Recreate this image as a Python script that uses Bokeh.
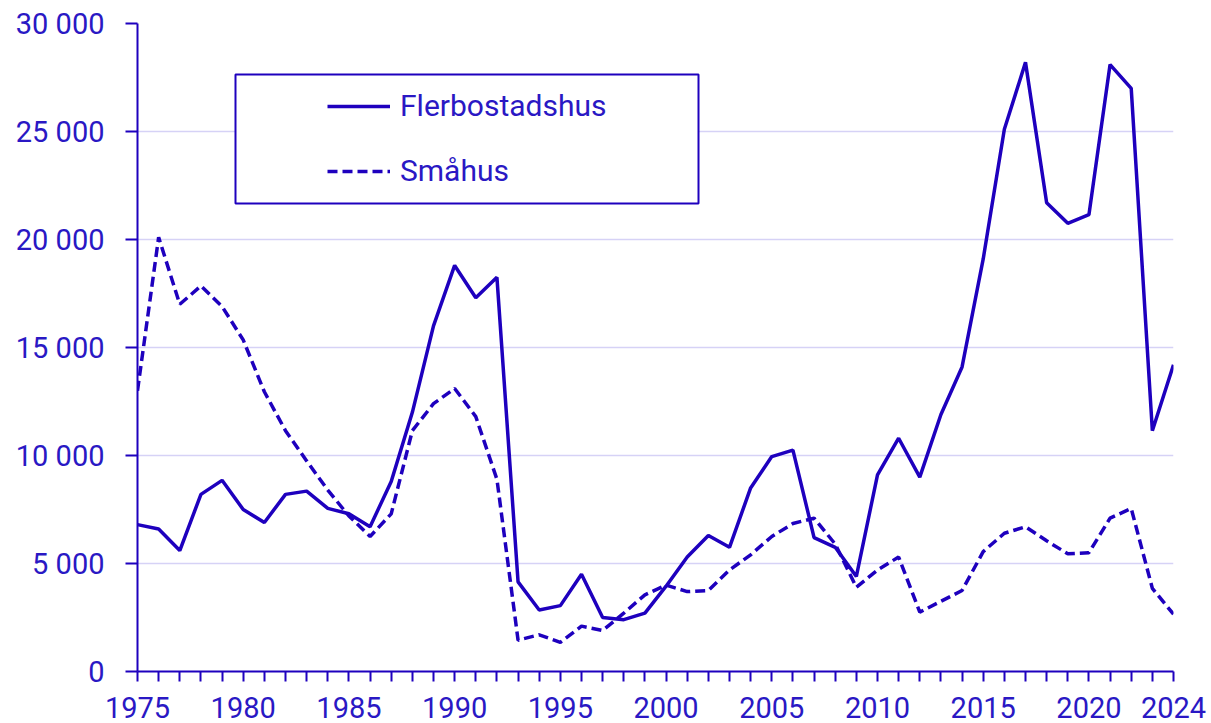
from bokeh.plotting import figure
from bokeh.models import (ColumnDataSource, FixedTicker, Legend, LegendItem,
                          BoxAnnotation, Range1d)
from bokeh.embed import file_html
from bokeh.resources import INLINE

years = list(range(1975, 2025))

flerbostadshus = [
    6800, 6600, 5600, 8200, 8850, 7500, 6900, 8200, 8350, 7550,
    7300, 6700, 8800, 12000, 16000, 18800, 17300, 18250, 4150, 2850,
    3050, 4500, 2500, 2400, 2700, 3950, 5300, 6300, 5750, 8500,
    9950, 10250, 6200, 5750, 4400, 9100, 10800, 9000, 11900, 14100,
    19100, 25100, 28200, 21700, 20750, 21150, 28100, 27000, 11150, 14200,
]

smahus = [
    13000, 20100, 17000, 17850, 16900, 15350, 12950, 11150, 9750, 8400,
    7200, 6250, 7300, 11150, 12400, 13100, 11800, 8900, 1450, 1700,
    1350, 2100, 1900, 2700, 3550, 4000, 3700, 3750, 4700, 5400,
    6250, 6850, 7100, 5900, 3900, 4700, 5300, 2750, 3250, 3750,
    5550, 6400, 6700, 6050, 5450, 5500, 7100, 7550, 3850, 2650,
]

series_names = ["Flerbostadshus", "Småhus"]

y_ticks = [0, 5000, 10000, 15000, 20000, 25000, 30000]
y_tick_labels = ["0", "5 000", "10 000", "15 000", "20 000", "25 000", "30 000"]

x_label_years = [1975, 1980, 1985, 1990, 1995, 2000, 2005, 2010, 2015, 2020, 2024]

COLOR = "#1E00BE"
TEXT = "#2A18C4"
FONT = "Roboto"

src = ColumnDataSource(dict(year=years, fler=flerbostadshus, sma=smahus))

p = figure(width=1207, height=723, output_backend="svg", toolbar_location=None,
           x_range=Range1d(1975, 2024), y_range=Range1d(0, 30000),
           min_border_left=137, min_border_right=34,
           min_border_top=23, min_border_bottom=52)
p.outline_line_color = None
p.background_fill_color = "white"
p.border_fill_color = "white"

r1 = p.line("year", "fler", source=src, line_color=COLOR, line_width=3.5)
r2 = p.line("year", "sma", source=src, line_color=COLOR, line_width=3.5,
            line_dash="10 5")

p.xgrid.grid_line_color = None
p.ygrid.grid_line_color = "#D6D2F6"
p.ygrid.grid_line_width = 1.5
p.ygrid.ticker = FixedTicker(ticks=y_ticks)

yax = p.yaxis[0]
yax.ticker = FixedTicker(ticks=y_ticks)
yax.major_label_overrides = {t: l for t, l in zip(y_ticks, y_tick_labels)}
yax.axis_line_color = COLOR
yax.axis_line_width = 2
yax.major_tick_line_color = COLOR
yax.major_tick_line_width = 2
yax.major_tick_out = 12
yax.major_tick_in = 0
yax.minor_tick_line_color = None
yax.major_label_text_font = FONT
yax.major_label_text_font_size = "29px"
yax.major_label_text_color = TEXT
yax.major_label_standoff = 21

xax = p.xaxis[0]
xax.ticker = FixedTicker(ticks=years)
xax.major_label_overrides = {y: (str(y) if y in x_label_years else "") for y in years}
xax.axis_line_color = COLOR
xax.axis_line_width = 2
xax.major_tick_line_color = COLOR
xax.major_tick_line_width = 2
xax.major_tick_out = 10
xax.major_tick_in = 0
xax.minor_tick_line_color = None
xax.major_label_text_font = FONT
xax.major_label_text_font_size = "29px"
xax.major_label_text_color = TEXT
xax.major_label_standoff = 15

box = BoxAnnotation(left=1979.635, right=2001.534, bottom=21667, top=27639,
                    fill_color="white", fill_alpha=1.0,
                    line_color=COLOR, line_alpha=1.0, line_width=2)
p.add_layout(box)

legend = Legend(items=[LegendItem(label=series_names[0], renderers=[r1]),
                       LegendItem(label=series_names[1], renderers=[r2])],
                location=(190, 483), orientation="vertical",
                glyph_width=63, glyph_height=30, label_height=30,
                label_standoff=10, spacing=30, padding=10, margin=0,
                border_line_color=None, background_fill_alpha=0,
                label_text_font=FONT, label_text_font_size="30px",
                label_text_color=TEXT)
p.add_layout(legend, "center")

open("out.html", "w").write(file_html(p, INLINE))
